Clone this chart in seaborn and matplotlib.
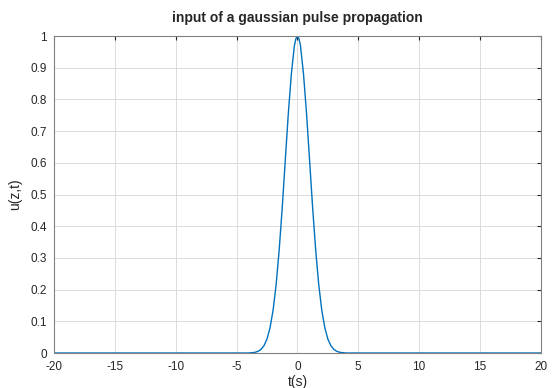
import numpy as np
import pandas as pd
import matplotlib
matplotlib.use("Agg")
import matplotlib.pyplot as plt
import seaborn as sns

# values (half-side, mirrored below)
t_half = [0, 0.125, 0.25, 0.5, 0.75, 1.0, 1.25, 1.5, 1.75, 2.0, 2.25, 2.5, 2.75,
          3.0, 3.25, 3.5, 3.75, 4.0, 20.0]
u_half = [1.0, 0.992, 0.97, 0.88, 0.755, 0.607, 0.458, 0.325, 0.216, 0.135, 0.080,
          0.044, 0.023, 0.011, 0.005, 0.002, 0.001, 0.0, 0.0]

x_ticks = [-20, -15, -10, -5, 0, 5, 10, 15, 20]
y_ticks = [0, 0.1, 0.2, 0.3, 0.4, 0.5, 0.6, 0.7, 0.8, 0.9, 1]
y_labels = ["0", "0.1", "0.2", "0.3", "0.4", "0.5", "0.6", "0.7", "0.8", "0.9", "1"]

t = [-v for v in t_half[::-1]] + t_half[1:]
u = u_half[::-1] + u_half[1:]
df = pd.DataFrame({"t": t, "u": u})

sns.set_style("white")
plt.rcParams['font.family'] = ['Liberation Sans', 'DejaVu Sans']

fig = plt.figure(figsize=(5.53, 3.88), dpi=100)
ax = fig.add_axes([0.0977, 0.0902, 0.8803, 0.8168])

sns.lineplot(data=df, x="t", y="u", ax=ax, color="#0072BD", linewidth=1.0)

ax.set_xlim(-20, 20)
ax.set_ylim(0, 1)
ax.set_xticks(x_ticks)
ax.set_xticklabels([str(v) for v in x_ticks])
ax.set_yticks(y_ticks)
ax.set_yticklabels(y_labels)
ax.grid(True, color="#dcdcdc", linewidth=0.7)
ax.tick_params(direction="in", length=3, labelsize=8.5, colors="#262626",
               top=True, right=True)
ax.tick_params(axis="x", pad=6)
ax.tick_params(axis="y", pad=5)
for s in ax.spines.values():
    s.set_color("#808080")
    s.set_linewidth(0.8)

ax.set_title("input of a gaussian pulse propagation", fontsize=10,
             fontweight="bold", pad=10)
ax.set_xlabel("t(s)", fontsize=10, labelpad=1)
ax.set_ylabel("u(z,t)", fontsize=10, labelpad=6)

fig.savefig("out.png", dpi=100)
